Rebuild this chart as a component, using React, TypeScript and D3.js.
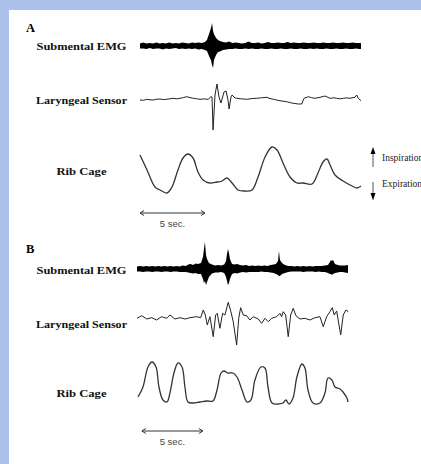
import React from 'react';
import * as d3 from 'd3';

const W = 421;
const H = 464;

type Pt = [number, number];
type Env = [number, number, number];

// ---- Panel A (time in seconds, signal in arbitrary units) ----

// Submental EMG envelope: [time, upper amplitude, lower amplitude]
const emgA: Env[] = [
  [0, 2.5, 2.5], [0.25, 3.5, 2.5], [0.5, 2.5, 3], [0.75, 3, 2], [1, 2.5, 3], [1.25, 3.5, 2.5],
  [1.5, 2.5, 2.5], [1.75, 3, 3.5], [2, 2.5, 2.5], [2.25, 3.5, 3], [2.5, 2.5, 2.5], [2.75, 3, 2],
  [3, 2.5, 3], [3.25, 3.5, 2.5], [3.5, 3, 3], [3.75, 2.5, 2.5], [4, 3.5, 3], [4.25, 3, 2.5],
  [4.5, 3.5, 3.5], [4.75, 3, 3], [5, 4, 4], [5.15, 6, 5], [5.31, 12, 10], [5.46, 18, 14],
  [5.54, 23, 19], [5.62, 15, 22], [5.69, 12, 14], [5.85, 8, 9], [6, 6, 6], [6.15, 5, 5.5],
  [6.38, 4, 4], [6.62, 3.5, 3.5], [6.85, 4.5, 3], [7.1, 3, 3], [7.35, 3.5, 2.5], [7.6, 3, 3],
  [7.85, 2.5, 3], [8.1, 3, 2.5], [8.35, 4.5, 3], [8.6, 3, 2.5], [8.85, 3, 3], [9.1, 3.5, 3],
  [9.35, 2.5, 2.5], [9.6, 3, 3], [9.85, 4, 3], [10.1, 3, 2.5], [10.35, 3, 3], [10.6, 3.5, 3],
  [10.85, 3, 2.5], [11.1, 3, 3], [11.35, 4, 3], [11.6, 3, 2.5], [11.85, 3.5, 3], [12.1, 3, 3],
  [12.35, 3, 2.5], [12.6, 3.5, 3], [12.85, 3, 3], [13.1, 3, 2.5], [13.35, 3.5, 3], [13.6, 3, 2.5],
  [13.85, 3, 3], [14.1, 3.5, 3], [14.35, 3, 2.5], [14.6, 3, 3], [14.85, 3.5, 3], [15.1, 3, 2.5],
  [15.35, 3, 3], [15.6, 3.5, 3], [15.85, 3, 2.5], [16.1, 3, 3], [16.35, 3.5, 3], [16.6, 3, 2.5],
  [16.85, 3, 3], [17, 3, 3],
];

// Laryngeal sensor: [time, deflection]
const laryngealA: Pt[] = [
  [0, 0], [0.26, -0.3], [0.52, 0.7], [0.77, 0.2], [1.02, 0], [1.28, 0.8], [1.54, 1], [1.8, 0.4],
  [2.05, 0.7], [2.3, 1.2], [2.56, 1.7], [2.82, 1.2], [3.08, 1.7], [3.33, 2.4], [3.59, 3.3],
  [3.85, 2.4], [4.1, 1.7], [4.36, 1.2], [4.62, 0.7], [4.95, 1.1], [5.25, 0.7], [5.44, 3.3],
  [5.54, 3], [5.62, -30], [5.77, 5], [5.92, 16], [6.08, 3], [6.23, -3], [6.46, 8], [6.62, 9],
  [6.77, 0], [6.85, -9], [7.0, 3], [7.08, 5], [7.31, 2], [7.44, 1.7], [7.8, 1.2], [8.21, 0.7],
  [8.6, 1.4], [8.98, 1.7], [9.35, 2.2], [9.75, 2.7], [10.0, 1.5], [10.25, 0.7], [10.5, 0],
  [10.77, -0.7], [11.0, -1.2], [11.28, -1.7], [11.55, -2.6], [11.79, -3.3], [12.18, -4],
  [12.44, -4], [12.62, 1.7], [12.95, 3.3], [13.2, 2.3], [13.46, 1.7], [13.85, 2.7], [14.23, 4],
  [14.62, 1.7], [14.9, 2.2], [15.13, 1.7], [15.4, 1.2], [15.64, 1.7], [15.9, 2.1], [16.15, 1.7],
  [16.54, 2.7], [16.67, 5], [16.79, 1.7], [17.0, -0.7],
];

// Rib cage excursion: [time, volume]
const ribCageA: Pt[] = [
  [0, 40], [0.54, 25], [1.15, 8], [1.54, 5], [2.08, 2], [2.46, 8], [2.92, 25], [3.31, 37],
  [3.69, 41], [4.08, 37], [4.46, 23], [4.85, 15], [5.38, 12], [5.92, 13], [6.31, 14], [6.69, 17],
  [7.08, 12], [7.54, 5], [8.08, 4], [8.62, 5], [9.08, 18], [9.62, 38], [10.15, 48], [10.54, 45],
  [11.0, 32], [11.54, 18], [12.08, 12], [12.54, 12], [13.23, 11], [13.69, 22], [14.08, 33],
  [14.38, 36], [14.62, 30], [15.0, 20], [15.62, 14], [16.31, 9], [16.69, 7], [17.0, 9],
];

// ---- Panel B ----

const emgB: Env[] = [
  [0, 2.5, 2.5], [0.25, 3, 2.5], [0.5, 2.5, 3], [0.75, 3, 2.5], [1, 2.5, 2.5], [1.25, 3, 3],
  [1.5, 2.5, 2.5], [1.75, 3, 2.5], [2, 2.5, 3], [2.25, 3, 2.5], [2.5, 2.5, 2.5], [2.75, 3, 3],
  [3, 2.5, 2.5], [3.25, 3, 2.5], [3.5, 2.5, 3], [3.75, 3.5, 3], [4, 3, 3], [4.2, 4.5, 3.5],
  [4.4, 5, 4], [4.6, 4, 4.5], [4.8, 5.5, 4], [5, 5, 5], [5.25, 6, 5], [5.41, 12, 10],
  [5.49, 20, 14], [5.57, 27, 12], [5.66, 14, 16], [5.74, 10, 13], [5.9, 6, 8], [6.15, 4.5, 4.5],
  [6.4, 3.5, 3.5], [6.65, 4, 3.5], [6.9, 3.5, 3], [7.15, 4.5, 4], [7.3, 8, 8], [7.38, 15, 12],
  [7.46, 20, 16], [7.54, 16, 14], [7.62, 10, 10], [7.79, 5, 5], [8.0, 4.5, 4], [8.2, 5, 4.5],
  [8.45, 4, 3.5], [8.7, 3.5, 3], [8.95, 4, 3.5], [9.2, 3, 3], [9.45, 3.5, 3], [9.7, 3, 3],
  [9.95, 3.5, 3], [10.2, 3, 2.5], [10.45, 3.5, 3], [10.7, 3, 3], [10.95, 4, 3.5], [11.2, 4.5, 4],
  [11.39, 5, 5], [11.56, 8, 6], [11.64, 18, 7], [11.72, 9, 7], [11.89, 6, 5], [12.13, 4, 4],
  [12.4, 3, 3], [12.65, 3, 2.5], [12.9, 2.5, 2.5], [13.15, 3, 2.5], [13.4, 2.5, 2.5],
  [13.65, 3, 3], [13.9, 2.5, 2.5], [14.15, 3, 2.5], [14.4, 2.5, 2.5], [14.65, 3, 3],
  [14.9, 3, 2.5], [15.15, 3, 3], [15.4, 3.5, 3], [15.66, 4, 4], [15.82, 7, 5], [15.9, 9, 5],
  [15.98, 8, 6], [16.07, 9, 5], [16.23, 5, 4], [16.45, 4, 3.5], [16.64, 3.5, 3], [16.85, 3.5, 3],
  [17.05, 3.5, 3.5], [17.3, 4, 4],
];

const laryngealB: Pt[] = [
  [0, -0.3], [0.39, 2.3], [0.8, -1], [1.2, 0.3], [1.61, -2], [2.02, 1.3], [2.43, -0.3], [2.7, 3],
  [3.11, -1], [3.52, 0.3], [3.93, -1], [4.34, 0.3], [4.89, 1.3], [5.22, 0.3], [5.43, 8],
  [5.6, 3], [5.76, -7], [5.98, 1.3], [6.25, -18.7], [6.45, 3], [6.58, 4.7], [6.8, -10.3],
  [7.02, 4.7], [7.21, 3], [7.48, 15.7], [7.7, 6.3], [7.89, -3.7], [8.17, -27], [8.34, -0.3],
  [8.5, 10.3], [8.71, 3], [8.99, 2.3], [9.26, -2], [9.53, 1.3], [9.94, -1], [10.22, -5.3],
  [10.49, -0.3], [10.76, -3.7], [11.04, -0.3], [11.45, 1.3], [11.72, 4.7], [11.86, 1.3],
  [11.99, 6.3], [12.19, 3], [12.4, -18.7], [12.6, 3], [12.81, 9.7], [13.03, 2.3], [13.36, -1],
  [13.77, -0.3], [14.18, -2], [14.59, 0.3], [15.0, 1.3], [15.27, -8.7], [15.55, 1.3],
  [15.82, 6.3], [16.01, 10.3], [16.17, 3], [16.37, 7], [16.7, -17], [16.91, 3], [17.13, 8],
  [17.32, 6.3],
];

const ribCageB: Pt[] = [
  [0.08, 8], [0.49, 18], [0.9, 38], [1.23, 43], [1.56, 38], [1.8, 18], [2.13, 5], [2.46, 3],
  [2.7, 12], [3.03, 32], [3.36, 42], [3.69, 38], [3.93, 18], [4.18, 3], [4.59, 2], [5.16, 3],
  [5.74, 4], [6.23, 4], [6.56, 15], [6.89, 32], [7.13, 34], [7.46, 32], [7.87, 32], [8.2, 28],
  [8.61, 15], [9.02, 3], [9.34, 5], [9.67, 25], [10.16, 38], [10.49, 37], [10.74, 18],
  [11.07, 2], [11.56, 1], [11.97, 2], [12.21, 5], [12.46, 1], [12.79, 7], [13.11, 28],
  [13.52, 41], [13.77, 37], [14.02, 15], [14.43, 2], [15.0, 2], [15.41, 12], [15.66, 27],
  [15.98, 25], [16.23, 18], [16.64, 16], [16.89, 13], [17.21, 7], [17.3, 3],
];

// Channel names shown to the left of each trace
const channelLabels = ['Submental EMG', 'Laryngeal Sensor', 'Rib Cage'];
const scaleBarSeconds = 5;
const scaleBarText = '5 sec.';

const serif = '"Liberation Serif", "Times New Roman", serif';
const sans = '"Liberation Sans", Arial, sans-serif';

interface PanelProps {
  letter: string;
  letterY: number;
  xScale: d3.ScaleLinear<number, number>;
  emg: Env[];
  laryngeal: Pt[];
  rib: Pt[];
  emgBase: number;
  larBase: number;
  ribTop: number;
  ribBottom: number;
  labelYs: number[];
  barStart: number;
  barY: number;
  showLegend: boolean;
}

function Panel(p: PanelProps) {
  const x = p.xScale;
  const yEmg = d3.scaleLinear().domain([-30, 30]).range([p.emgBase + 30, p.emgBase - 30]);
  const yLar = d3.scaleLinear().domain([-30, 30]).range([p.larBase + 30, p.larBase - 30]);
  const yRib = d3.scaleLinear().domain([0, 50]).range([p.ribBottom, p.ribTop]);

  const emgArea = d3
    .area<Env>()
    .x((d) => x(d[0]))
    .y0((d) => yEmg(-d[2]))
    .y1((d) => yEmg(d[1]))
    .curve(d3.curveLinear);

  const larLine = d3
    .line<Pt>()
    .x((d) => x(d[0]))
    .y((d) => yLar(d[1]))
    .curve(d3.curveLinear);

  const ribLine = d3
    .line<Pt>()
    .x((d) => x(d[0]))
    .y((d) => yRib(d[1]))
    .curve(d3.curveCatmullRom.alpha(0.5));

  const bx0 = x(p.barStart);
  const bx1 = x(p.barStart + scaleBarSeconds);
  const labelWidths = [90, 91, 50];

  return (
    <g>
      <text x={26} y={p.letterY} fontFamily={serif} fontWeight="bold" fontSize={12.5} fill="#000">
        {p.letter}
      </text>
      {channelLabels.map((t, i) => (
        <text
          key={t}
          x={81.5}
          y={p.labelYs[i]}
          textAnchor="middle"
          fontFamily={serif}
          fontWeight="bold"
          fontSize={10.5}
          textLength={labelWidths[i]}
          lengthAdjust="spacingAndGlyphs"
          fill="#111"
        >
          {t}
        </text>
      ))}
      <path d={emgArea(p.emg) || ''} fill="#000" stroke="none" />
      <path d={larLine(p.laryngeal) || ''} fill="none" stroke="#222" strokeWidth={1} />
      <path d={ribLine(p.rib) || ''} fill="none" stroke="#333" strokeWidth={1.3} />

      {/* time scale bar */}
      <g stroke="#333" strokeWidth={1} fill="none">
        <line x1={bx0} y1={p.barY} x2={bx1} y2={p.barY} />
        <path d={`M${bx0 + 4},${p.barY - 2.5} L${bx0},${p.barY} L${bx0 + 4},${p.barY + 2.5}`} />
        <path d={`M${bx1 - 4},${p.barY - 2.5} L${bx1},${p.barY} L${bx1 - 4},${p.barY + 2.5}`} />
      </g>
      <text
        x={(bx0 + bx1) / 2}
        y={p.barY + 13.5}
        textAnchor="middle"
        fontFamily={sans}
        fontSize={9.5}
        fill="#444"
      >
        {scaleBarText}
      </text>

      {p.showLegend && (
        <g>
          <line x1={373} y1={153} x2={373} y2={167} stroke="#555" strokeWidth={1} />
          <path d="M370.5,154 L373,147 L375.5,154 Z" fill="#000" />
          <line x1={373} y1={182} x2={373} y2={194} stroke="#555" strokeWidth={1} />
          <path d="M370.5,193 L373,200.5 L375.5,193 Z" fill="#000" />
          <text x={382} y={160.5} fontFamily={serif} fontSize={9.5} fill="#222">
            Inspiration
          </text>
          <text x={382} y={187} fontFamily={serif} fontSize={9.5} fill="#222">
            Expiration
          </text>
        </g>
      )}
    </g>
  );
}

export default function App() {
  const xA = d3.scaleLinear().domain([0, 17]).range([140, 361]);
  const xB = d3.scaleLinear().domain([0, 17.3]).range([137, 348]);

  return (
    <svg
      width={W}
      height={H}
      viewBox={`0 0 ${W} ${H}`}
      style={{ position: 'absolute', left: 0, top: 0, display: 'block' }}
    >
      <rect x={0} y={0} width={W} height={H} fill="#aac2e9" />
      <rect x={9} y={10} width={W - 9} height={H - 10} fill="#ffffff" />
      <Panel
        letter="A"
        letterY={31.5}
        xScale={xA}
        emg={emgA}
        laryngeal={laryngealA}
        rib={ribCageA}
        emgBase={46}
        larBase={100}
        ribTop={145}
        ribBottom={195}
        labelYs={[50, 103.5, 174.5]}
        barStart={0}
        barY={213}
        showLegend={true}
      />
      <Panel
        letter="B"
        letterY={252.5}
        xScale={xB}
        emg={emgB}
        laryngeal={laryngealB}
        rib={ribCageB}
        emgBase={269}
        larBase={318}
        ribTop={355}
        ribBottom={405}
        labelYs={[274, 327.5, 397]}
        barStart={0.4}
        barY={431}
        showLegend={false}
      />
    </svg>
  );
}
